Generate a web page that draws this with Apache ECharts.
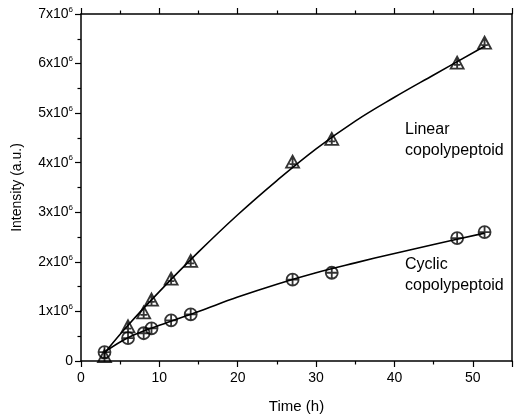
<!DOCTYPE html>
<html><head><meta charset="utf-8">
<script src="https://cdn.jsdelivr.net/npm/echarts@6/dist/echarts.min.js"></script>
<style>html,body{margin:0;padding:0;background:#fff}#c{width:514px;height:419px}</style>
</head><body><div id="c"></div>
<script>
// Measured points (time in h, intensity in units of 1e6)
var times = [3, 6, 8, 9, 11.5, 14, 27, 32, 48, 51.5];
var linearVals = [0.10, 0.70, 0.98, 1.24, 1.66, 2.02, 4.02, 4.48, 6.02, 6.42];
var cyclicVals = [0.18, 0.46, 0.56, 0.66, 0.82, 0.94, 1.64, 1.78, 2.48, 2.60];
// Fitted curves
var fitTimes = [3, 6, 10, 15, 20, 25, 30, 35, 40, 45, 51.5];
var linearFit = [0.16, 0.72, 1.40, 2.20, 2.95, 3.64, 4.28, 4.84, 5.32, 5.77, 6.35];
var cyclicFit = [0.18, 0.47, 0.72, 1.00, 1.29, 1.55, 1.78, 1.98, 2.17, 2.35, 2.58];
var yTicks = ['0', '1', '2', '3', '4', '5', '6', '7'];
var xTicks = ['0', '10', '20', '30', '40', '50'];
var labels = [
  {text: 'Linear\ncopolypeptoid', x: 405, y: 119},
  {text: 'Cyclic\ncopolypeptoid', x: 405, y: 254}
];

var scale = 1e6;
function pairs(xs, ys) { return xs.map(function (x, i) { return [x, ys[i] * scale]; }); }

var FONT = 'Liberation Sans';
var triPath = 'path://M0,-10 L10,10 L-10,10 Z M0,-10 L0,10 M-5,4 L5,4';
var circPath = 'path://M10,0 A10,10 0 1,1 -10,0 A10,10 0 1,1 10,0 Z M-10,0 L10,0 M0,-10 L0,10';

var chart = echarts.init(document.getElementById('c'), null, {renderer: 'canvas'});
var axisLine = {show: true, onZero: false, lineStyle: {color: '#000', width: 1.5}};
var tick = {show: true, inside: false, length: 6, lineStyle: {color: '#000', width: 1.2}};
var minor = {show: true, splitNumber: 2, length: 3.5, lineStyle: {color: '#000', width: 1.2}};
var option = {
  animation: false,
  backgroundColor: '#fff',
  grid: {left: 81, right: 2, top: 14, bottom: 55},
  xAxis: [{
    type: 'value', min: 0, max: 55, interval: 10, position: 'bottom',
    name: 'Time (h)', nameLocation: 'middle', nameGap: 38,
    nameTextStyle: {fontFamily: FONT, fontSize: 15, color: '#000'},
    axisLine: axisLine, axisTick: tick, minorTick: minor,
    axisLabel: {fontFamily: FONT, fontSize: 14, color: '#000', margin: 10, showMaxLabel: false,
      formatter: function (v) { var i = Math.round(v / 10); return (v % 10 === 0 && xTicks[i] !== undefined) ? xTicks[i] : ''; }},
    splitLine: {show: false}
  }, {
    type: 'value', min: 0, max: 55, interval: 10, position: 'top',
    axisLine: axisLine, axisTick: tick, minorTick: minor,
    axisLabel: {show: false}, splitLine: {show: false}
  }],
  yAxis: [{
    type: 'value', min: 0, max: 7e6, interval: 1e6, position: 'left',
    name: 'Intensity (a.u.)', nameLocation: 'middle', nameGap: 57, nameRotate: 90,
    nameTextStyle: {fontFamily: FONT, fontSize: 14, color: '#000'},
    axisLine: axisLine, axisTick: tick, minorTick: minor,
    axisLabel: {
      margin: 8,
      formatter: function (v) {
        var idx = Math.round(v / scale);
        var t = yTicks[idx];
        return t === '0' ? '{a|0}' : '{a|' + t + 'x10}{b|6}';
      },
      rich: {
        a: {fontFamily: FONT, fontSize: 14, color: '#000'},
        b: {fontFamily: FONT, fontSize: 8, color: '#000', verticalAlign: 'bottom', padding: [0, 0, 9, 0]}
      }
    },
    splitLine: {show: false}
  }, {
    type: 'value', min: 0, max: 7e6, interval: 1e6, position: 'right',
    axisLine: axisLine, axisTick: {show: false}, axisLabel: {show: false}, splitLine: {show: false}
  }],
  graphic: labels.map(function (l) {
    return {type: 'text', left: l.x, top: l.y, z: 10,
      style: {text: l.text, font: '16px "' + FONT + '"', fill: '#000', lineHeight: 21}};
  }),
  series: [
    {type: 'line', data: pairs(fitTimes, linearFit), smooth: 0.4, showSymbol: false, symbol: 'none',
      lineStyle: {color: '#000', width: 1.6}, z: 2},
    {type: 'line', data: pairs(fitTimes, cyclicFit), smooth: 0.4, showSymbol: false, symbol: 'none',
      lineStyle: {color: '#000', width: 1.6}, z: 2},
    {type: 'scatter', data: pairs(times, linearVals), symbol: triPath, symbolSize: [13, 12],
      itemStyle: {color: 'rgba(255,255,255,0)', borderColor: '#000', borderWidth: 1.8}, z: 3},
    {type: 'scatter', data: pairs(times, cyclicVals), symbol: circPath, symbolSize: [12, 12],
      itemStyle: {color: 'rgba(255,255,255,0)', borderColor: '#000', borderWidth: 1.8}, z: 3}
  ]
};
chart.setOption(option);
</script></body></html>
